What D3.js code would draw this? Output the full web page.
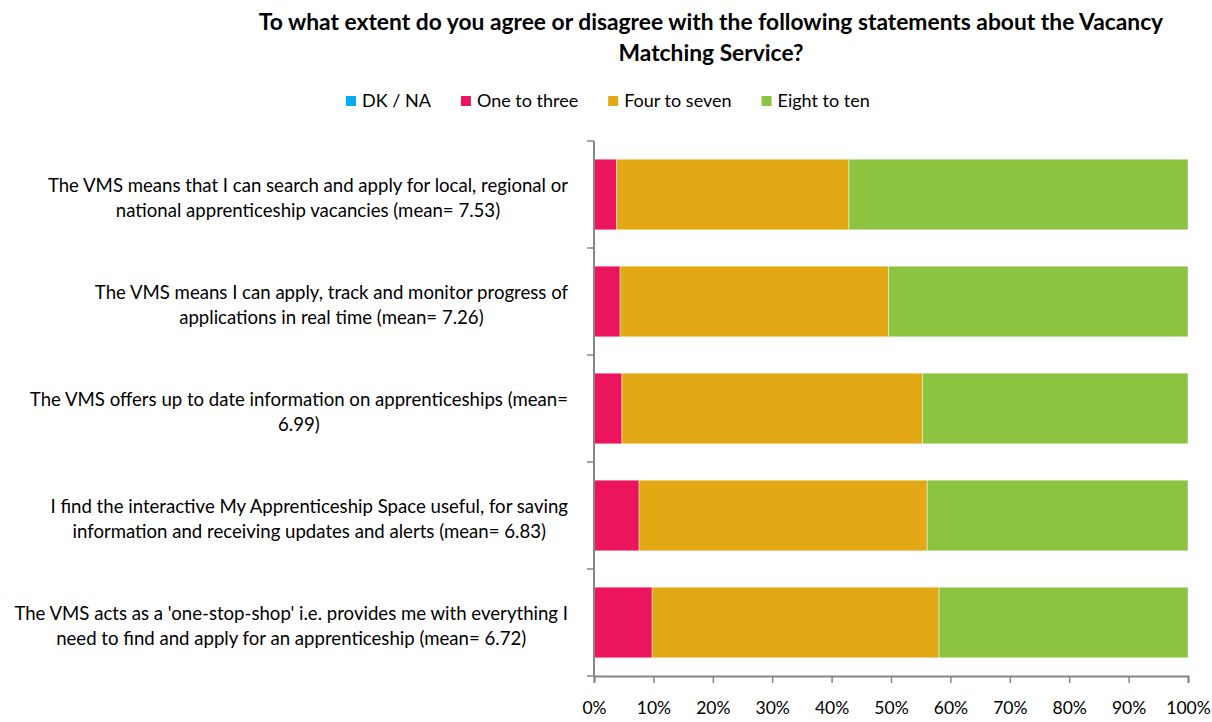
<!DOCTYPE html>
<html>
<head>
<meta charset="utf-8">
<script src="https://cdn.jsdelivr.net/npm/d3@7"></script>
<style>
  body { margin: 0; background: #fff; }
  text { font-family: Lato, "Open Sans", sans-serif; fill: #000; }
</style>
</head>
<body>
<svg id="chart" width="1212" height="722"></svg>
<script>
// Statements (each pre-wrapped into its display lines)
const categories = [
  ["The VMS means that  I can search and apply for local, regional or", "national apprenticeship vacancies (mean= 7.53)"],
  ["The VMS means I can apply, track and monitor progress of", "applications in real time (mean= 7.26)"],
  ["The VMS offers up to date information on apprenticeships (mean=", "6.99)"],
  ["I find the interactive My Apprenticeship Space useful, for saving", "information and receiving updates and alerts (mean= 6.83)"],
  ["The VMS acts as a 'one-stop-shop' i.e. provides me with everything I", "need to find and apply for an apprenticeship (mean= 6.72)"]
];

// Share of respondents (%) per rating band
const seriesNames = ["DK / NA", "One to three", "Four to seven", "Eight to ten"];
const dkNa        = [0, 0, 0, 0, 0];
const oneToThree  = [3.8, 4.4, 4.7, 7.6, 9.8];
const fourToSeven = [39.1, 45.2, 50.6, 48.5, 48.3];
const eightToTen  = [57.1, 50.4, 44.7, 43.9, 41.9];

const tickValues = [0, 10, 20, 30, 40, 50, 60, 70, 80, 90, 100];
const tickLabels = ["0%", "10%", "20%", "30%", "40%", "50%", "60%", "70%", "80%", "90%", "100%"];

const titleLines = [
  "To what extent do you agree or disagree with the following statements about the Vacancy",
  "Matching Service?"
];

const colors = ["#00AEEF", "#EC145C", "#E3A815", "#8DC43F"];

// ---- build rows for stacking ----
const rows = categories.map((c, i) => ({
  idx: i,
  "DK / NA": dkNa[i],
  "One to three": oneToThree[i],
  "Four to seven": fourToSeven[i],
  "Eight to ten": eightToTen[i]
}));

const svg = d3.select("#chart");
const margin = { left: 594, right: 24, top: 141, bottom: 46 };
const W = 1212, H = 722;

const x = d3.scaleLinear().domain([0, 100]).range([margin.left, W - margin.right]);
const y = d3.scaleBand()
  .domain(categories.map((c, i) => i))
  .range([margin.top, H - margin.bottom])
  .paddingInner(0.34)
  .paddingOuter(0.17);

const stacked = d3.stack().keys(seriesNames)(rows);
const color = d3.scaleOrdinal().domain(seriesNames).range(colors);

// ---- bars ----
svg.append("g")
  .selectAll("g")
  .data(stacked)
  .join("g")
  .attr("fill", d => color(d.key))
  .selectAll("rect")
  .data(d => d)
  .join("rect")
  .attr("x", d => x(d[0]))
  .attr("y", d => y(d.data.idx))
  .attr("width", d => x(d[1]) - x(d[0]))
  .attr("height", y.bandwidth())
  .attr("stroke", "rgba(255,255,255,0.45)")
  .attr("stroke-width", 1);

// ---- axes ----
const axisColor = "#868686";

const xAxis = svg.append("g")
  .attr("transform", `translate(0,${H - margin.bottom})`)
  .call(d3.axisBottom(x).tickValues(tickValues).tickFormat((d, i) => tickLabels[i]).tickSize(7).tickPadding(19));
xAxis.select(".domain").attr("stroke", axisColor).attr("stroke-width", 2);
xAxis.selectAll(".tick line").attr("stroke", axisColor).attr("stroke-width", 1.5);
xAxis.selectAll(".tick text").attr("font-size", 17.5).attr("font-family", "Lato, sans-serif").attr("fill", "#000");

// Left axis: ticks on category boundaries
const yBounds = d3.range(categories.length + 1).map(i => margin.top + i * y.step());
const yAxis = svg.append("g");
yAxis.append("line")
  .attr("x1", margin.left).attr("x2", margin.left)
  .attr("y1", margin.top).attr("y2", H - margin.bottom)
  .attr("stroke", axisColor).attr("stroke-width", 2);
yAxis.selectAll("line.tick")
  .data(yBounds)
  .join("line")
  .attr("class", "tick")
  .attr("x1", margin.left - 7).attr("x2", margin.left)
  .attr("y1", d => d).attr("y2", d => d)
  .attr("stroke", axisColor).attr("stroke-width", 1.5);

// ---- category labels: block right-aligned near the axis, lines centred ----
const labelRight = 568;
const lineGap = 25;
categories.forEach((lines, i) => {
  const g = svg.append("g");
  const texts = g.selectAll("text")
    .data(lines)
    .join("text")
    .attr("font-size", 18.6)
    .attr("text-anchor", "middle")
    .text(d => d);
  const maxW = d3.max(texts.nodes(), n => n.getComputedTextLength());
  const cx = labelRight - maxW / 2;
  const cy = y(i) + y.bandwidth() / 2 + 3;
  texts
    .attr("x", cx)
    .attr("y", (d, j) => cy + (j - (lines.length - 1) / 2) * lineGap)
    .attr("dy", "0.35em");
});

// ---- title ----
svg.append("g")
  .selectAll("text")
  .data(titleLines)
  .join("text")
  .attr("x", 711)
  .attr("y", (d, i) => 22 + i * 31)
  .attr("dy", "0.35em")
  .attr("text-anchor", "middle")
  .attr("font-size", 22.8)
  .attr("font-weight", "bold")
  .text(d => d);

// ---- legend ----
const legend = svg.append("g").attr("transform", "translate(0,101)");
let lx = 346;
seriesNames.forEach((name, i) => {
  legend.append("rect")
    .attr("x", lx).attr("y", -5)
    .attr("width", 10).attr("height", 10)
    .attr("fill", colors[i]);
  const t = legend.append("text")
    .attr("x", lx + 16)
    .attr("y", 0)
    .attr("dy", "0.35em")
    .attr("font-size", 18)
    .text(name);
  lx += 16 + t.node().getComputedTextLength() + 30;
});
</script>
</body>
</html>
